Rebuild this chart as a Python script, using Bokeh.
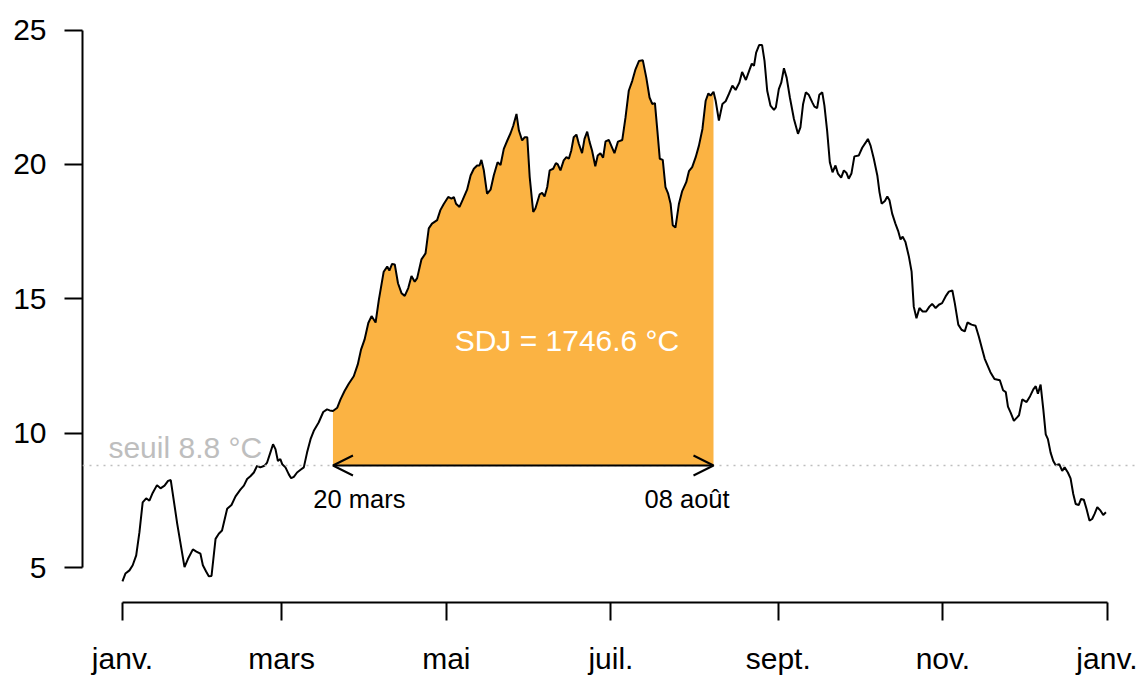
from bokeh.plotting import figure
from bokeh.models import Range1d, Arrow, OpenHead, Label, FixedTicker, Span
from bokeh.embed import file_html
from bokeh.resources import INLINE

# ---- data (day of year, mean temperature °C) ----
days = [0, 1.1, 2.6, 3.8, 5.1, 6.3, 7.5, 8.8, 10, 11.2, 12.8, 14.1, 15.6, 16.9, 17.9,
        20.3, 23, 24.3, 26.1, 27.4, 28.9, 29.8, 31, 32, 33, 34.5, 35.7, 36.9, 38.8,
        40.4, 41.9, 43.7, 45, 46.2, 47.4, 48.7, 49.9, 51.1, 52.6, 53.6, 54.8, 55.8,
        56.7, 57.6, 58.5, 59.2, 60.4, 61.6, 62.5, 63.5, 64.7, 66, 67.2, 68.4, 69.7,
        70.9, 72.7, 74.4, 75.8, 76.8, 78, 79.6, 80.8, 82.3, 83.9, 85.7, 87.2, 88.4,
        89.7, 91.1, 92.3, 93.8, 95, 96.8, 98.1, 98.9, 99.9, 100.9, 102.1, 103.4,
        104.6, 105.9, 107.1, 108.3, 109.2, 110.8, 112.3, 113.5, 114.7, 116.6, 117.8,
        119, 120.7, 121.9, 122.8, 123.6, 124.9, 126.1, 127.7, 129, 130.2, 131.4,
        132.3, 133, 133.9, 135.1, 136.4, 137.6, 139, 140.1, 141.3, 142.6, 143.8,
        144.8, 146, 146.9, 148.1, 149, 150, 150.9, 152.2, 153, 154.6, 155.5, 156.4,
        157.4, 158.3, 159.6, 160.6, 161.3, 162.3, 163.5, 164.5, 165.4, 166.3, 167.2,
        168.2, 169.1, 170.3, 171.2, 172.2, 173.1, 174, 175.2, 176.1, 177.1, 178.1,
        179, 180.2, 182.3, 183.6, 185.2, 186.4, 187.6, 188.9, 190.1, 191.4, 192.8,
        194.1, 195.3, 196.3, 197.3, 198.2, 199.1, 200.2, 201.2, 202.2, 203.1, 203.9,
        204.9, 206.2, 207.4, 208.9, 209.9, 211.1, 212.4, 213.6, 214.9, 216.1, 217.1,
        217.9, 219, 219.8, 221, 222.3, 223.5, 224.7, 226, 227.2, 228.6, 229.6, 231,
        232.3, 233.2, 234, 234.8, 235.9, 237, 237.9, 238.9, 240.1, 241.4, 242.1,
        243.2, 244.1, 245.1, 246.1, 247.3, 248.8, 250.3, 251.2, 252.2, 253.2, 254.3,
        255.6, 256.4, 257.4, 258.2, 259.3, 260.1, 261.1, 262.1, 263.1, 264.2, 265.1,
        266.3, 267.3, 268.3, 269.1, 270.1, 271.2, 272.8, 274.1, 275.3, 276.2, 277.2,
        278.4, 279.7, 280.5, 281.3, 282.5, 283.4, 284.2, 285.2, 286.4, 287.4, 288.3,
        289.1, 290.1, 291.4, 292.4, 293.2, 294.2, 295.3, 296.5, 297.8, 299, 300,
        301.3, 302.5, 303.7, 305, 306.2, 307.5, 308.4, 309.7, 310.9, 312.1, 313.1,
        314.6, 316.1, 317.3, 318.6, 319.5, 321.6, 323.1, 325.1, 326.3, 327.3, 328.1,
        329.1, 330.3, 332.2, 333.4, 335, 336.3, 337.5, 338.4, 339.2, 340.2, 341.2,
        342.1, 342.9, 343.9, 344.9, 345.8, 347.1, 348.2, 349.1, 350.3, 351.3, 352.3,
        353.2, 354.3, 355.2, 356.2, 357.2, 358.3, 359.3, 360.2, 361.2, 362.4, 363.4,
        364.4]
temps = [4.49, 4.78, 4.9, 5.09, 5.46, 6.32, 7.43, 7.58, 7.49, 7.78, 8.07, 7.95, 8.05,
         8.23, 8.26, 6.63, 5.02, 5.33, 5.68, 5.6, 5.52, 5.09, 4.86, 4.68, 4.69, 6.07,
         6.26, 6.38, 7.19, 7.33, 7.65, 7.9, 8.05, 8.3, 8.4, 8.54, 8.79, 8.73, 8.79,
         8.91, 9.28, 9.59, 9.41, 8.97, 9.04, 8.85, 8.73, 8.48, 8.33, 8.38, 8.54, 8.64,
         8.73, 9.28, 9.78, 10.09, 10.4, 10.79, 10.89, 10.85, 10.83, 10.95, 11.26,
         11.57, 11.85, 12.12, 12.56, 13.11, 13.48, 14.1, 14.36, 14.12, 14.96, 16.01,
         16.2, 16.05, 16.3, 16.28, 15.58, 15.21, 15.11, 15.4, 15.85, 15.64, 15.77,
         16.47, 16.69, 17.62, 17.8, 17.93, 18.3, 18.52, 18.79, 18.73, 18.79, 18.54,
         18.42, 18.69, 19.06, 19.59, 19.84, 19.96, 19.96, 20.17, 19.78, 18.91, 19.06,
         19.6, 20.08, 19.98, 20.58, 20.89, 21.16, 21.44, 21.88, 21.26, 20.89, 21.01,
         21.01, 19.53, 18.23, 18.36, 18.89, 18.94, 18.81, 19.16, 19.78, 19.84, 20.05,
         20.0, 19.78, 20.15, 20.27, 20.21, 20.52, 21.01, 21.11, 20.77, 20.42, 20.95,
         21.22, 20.83, 20.52, 19.93, 20.33, 20.42, 20.25, 20.86, 20.91, 20.42, 20.85,
         20.91, 21.75, 22.74, 23.11, 23.54, 23.85, 23.88, 23.23, 22.49, 22.25, 22.28,
         21.26, 20.21, 20.17, 19.16, 18.91, 18.54, 17.74, 17.65, 18.54, 19.01, 19.34,
         19.75, 19.9, 20.27, 20.7, 21.32, 22.37, 22.64, 22.56, 22.7, 22.37, 21.63,
         22.25, 22.35, 22.62, 22.93, 22.77, 23.05, 23.44, 23.14, 23.51, 23.75, 23.67,
         24.16, 24.44, 24.44, 23.85, 22.74, 22.19, 22.03, 22.12, 22.8, 23.04, 23.58,
         23.23, 22.49, 21.69, 21.14, 21.38, 22.25, 22.68, 22.59, 22.31, 22.15, 22.1,
         22.59, 22.68, 22.19, 21.26, 20.08, 19.71, 19.96, 19.66, 19.51, 19.78, 19.68,
         19.47, 19.66, 20.3, 20.33, 20.62, 20.8, 20.95, 20.7, 20.21, 19.59, 18.97,
         18.54, 18.64, 18.81, 18.67, 18.17, 17.8, 17.53, 17.21, 17.31, 17.12, 16.57,
         16.01, 14.71, 14.28, 14.66, 14.53, 14.53, 14.71, 14.81, 14.66, 14.78, 14.84,
         15.09, 15.27, 15.31, 14.84, 14.04, 13.85, 13.79, 14.12, 14.04, 14.0, 13.6,
         13.11, 12.77, 12.27, 12.02, 11.97, 11.6, 11.53, 10.99, 10.77, 10.46, 10.67,
         11.26, 11.16, 11.38, 11.63, 11.75, 11.47, 11.81, 10.89, 9.96, 9.78, 9.28,
         8.97, 8.81, 8.85, 8.6, 8.73, 8.54, 8.32, 7.74, 7.37, 7.33, 7.56, 7.53, 7.19,
         6.75, 6.81, 7.0, 7.25, 7.12, 6.96, 7.06]

threshold = 8.8
start_day = 78      # 20 mars
end_day = 219       # 08 août
start_label = "20 mars"
end_label = "08 août"
threshold_label = "seuil 8.8 °C"
sdj_label = "SDJ = 1746.6 °C"

x_ticks = [0, 59, 120, 181, 243, 304, 365]
x_tick_labels = ["janv.", "mars", "mai", "juil.", "sept.", "nov.", "janv."]
y_ticks = [5, 10, 15, 20, 25]

FONT = "Liberation Sans"
FILL = "#FBB343"
GREY = "#BEBEBE"

W, H = 1137, 677
p = figure(width=W, height=H, output_backend="svg", toolbar_location=None,
           x_range=Range1d(-14.8, 376.1), y_range=Range1d(3.704, 25.28),
           min_border_left=82, min_border_right=0, min_border_top=22,
           min_border_bottom=73)
p.background_fill_color = "white"
p.border_fill_color = "white"
p.outline_line_color = None
p.grid.visible = False

# filled area between threshold and curve
fx = [d for d in days if start_day <= d <= end_day]
fy = [t for d, t in zip(days, temps) if start_day <= d <= end_day]
p.varea(x=fx, y1=[threshold] * len(fx), y2=fy, fill_color=FILL, fill_alpha=1.0)

# threshold dotted line
p.add_layout(Span(location=threshold, dimension="width", line_color=GREY,
                  line_width=1.5, line_dash="2 5"))

# temperature curve
p.line(days, temps, line_color="black", line_width=2)

# double arrow
p.add_layout(Arrow(start=OpenHead(size=20, line_width=2, line_color="black"),
                   end=OpenHead(size=20, line_width=2, line_color="black"),
                   x_start=start_day, y_start=threshold, x_end=end_day, y_end=threshold,
                   line_width=2, line_color="black"))

# labels
p.add_layout(Label(x=-5.2, y=9.47, text=threshold_label, text_font=FONT,
                   text_font_size="30px", text_color=GREY,
                   text_align="left", text_baseline="alphabetic"))
p.add_layout(Label(x=164.7, y=13.45, text=sdj_label, text_font=FONT,
                   text_font_size="30px", text_color="white",
                   text_align="center", text_baseline="middle"))
p.add_layout(Label(x=87.8, y=7.56, text=start_label, text_font=FONT,
                   text_font_size="25.5px", text_color="black",
                   text_align="center", text_baseline="alphabetic"))
p.add_layout(Label(x=209.2, y=7.56, text=end_label, text_font=FONT,
                   text_font_size="25.5px", text_color="black",
                   text_align="center", text_baseline="alphabetic"))

# axes (R style)
for ax in (p.xaxis[0], p.yaxis[0]):
    ax.axis_line_width = 2
    ax.major_tick_line_width = 2
    ax.major_tick_out = 18
    ax.major_tick_in = 0
    ax.minor_tick_line_color = None
    ax.major_label_text_font = FONT
    ax.major_label_text_font_size = "30px"
    ax.major_label_text_color = "black"

p.xaxis.ticker = FixedTicker(ticks=x_ticks)
p.xaxis.major_label_overrides = {t: l for t, l in zip(x_ticks, x_tick_labels)}
p.xaxis.bounds = (x_ticks[0], x_ticks[-1])
p.xaxis.major_label_standoff = 21

p.yaxis.ticker = FixedTicker(ticks=y_ticks)
p.yaxis.bounds = (y_ticks[0], y_ticks[-1])
p.yaxis.major_label_standoff = 18
p.yaxis.major_label_orientation = "horizontal"

open("out.html", "w").write(file_html(p, INLINE))
